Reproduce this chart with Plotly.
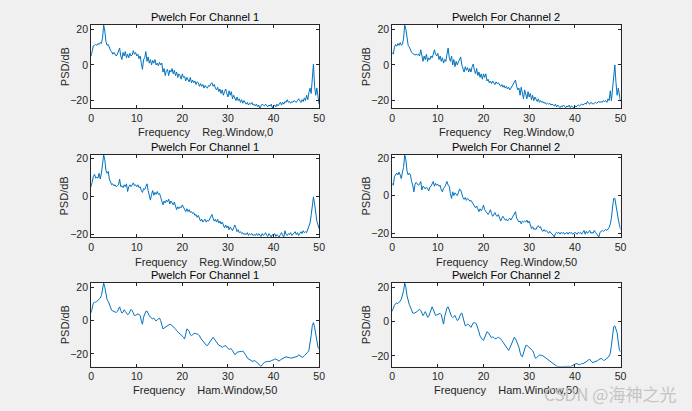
import numpy as np
import plotly.graph_objects as go

# frequency bins (Hz)
freq = np.arange(0, 201) * 0.25

# Channel 1, rectangular window, no overlap
psd_ch1_reg0 = [
    5, 8, 10.8, 11, 11.5, 11, 12, 11.5, 12.5, 12, 15, 22.3,
    19, 13, 11, 11.5, 9, 8, 7.5, 6, 7, 5.5, 5, 6,
    8, 9.5, 5, 3, 7, 5, 7.5, 4, 6, 4, 6.5, 5,
    5.5, 8, 6, 7, 5, 6, 3.5, 5, 1, -2.5, 3, 4,
    7.5, 2, 4.5, 1, 3, 0, 2.5, 1, 3, 0, 1, -0.5,
    1.5, 0, 1, -4, -2, -6, -3, -2.5, -6, -3, -4, -2,
    -5, -3, -6, -4, -7, -5, -6, -8, -5, -7, -6.5, -9,
    -7, -8, -9.5, -7, -10, -8.5, -10, -9, -11, -9.5, -10, -12,
    -10.5, -12, -11, -13, -11.5, -12.5, -13, -11.5, -12, -10.5, -10, -12,
    -11, -13, -14, -12.5, -15, -13.5, -16, -14, -17, -15, -13.5, -16,
    -18, -14.5, -17, -15, -19, -17, -18.5, -20, -18, -20, -19, -21,
    -19.5, -21.5, -20, -21, -22, -21, -22.5, -21.5, -22, -21, -22.5, -22,
    -23, -22, -23.5, -22.5, -24.3, -23, -22, -22.5, -23, -22, -22.5, -23.5,
    -22.5, -23, -22, -24.2, -23, -22.5, -23.5, -22, -23, -22, -21, -22.5,
    -21, -22, -20.5, -21, -19.5, -21, -20.5, -21.5, -20.5, -21, -20, -20.5,
    -21, -20, -19, -20, -21, -19.5, -20.5, -18.5, -20, -17, -19.5, -15.5,
    -13, -16, -8, 0.5, -12, -17, -13, -19, -22,
]

# Channel 2, rectangular window, no overlap
psd_ch2_reg0 = [
    7, 6, 10, 11.5, 10.5, 12, 11, 12.5, 11, 11.5, 15, 22.3,
    20, 14, 11, 10, 8, 7, 6.5, 6, 5.5, 6, 5.5, 6,
    5, 8.5, 4, 2, 5, 3, 6, 2, 4, 3, 5, 4,
    6, 8.5, 6, 5, 6.5, 3, 5, 2, 4, 1, 3, 2,
    6, 9.5, 4, 2, 5, 0, 3, -1, 2, 0, 1.5, 3,
    4.5, 0, -2, -4, -1, -3, -1.5, -4, -2, -4, -1, 0.5,
    -3, -5, -2, -6, -4, -7, -5, -8, -5, -7, -5, -9,
    -8, -10, -9, -10.5, -9, -10, -11, -9.5, -10.5, -10, -11, -12,
    -11, -12.5, -11.5, -13, -12, -13.5, -12.5, -14, -13, -12, -11, -10,
    -8.5, -12, -14, -13, -17, -12.5, -15, -19, -14, -16, -19, -15,
    -18, -16, -19.5, -17, -20, -18, -19.5, -20.5, -19, -21, -20, -21,
    -20.5, -21.5, -21, -22, -21.5, -22, -21.5, -22.5, -22, -22.5, -23, -22,
    -23.5, -22.5, -23, -24, -23, -23.5, -22.5, -23, -24, -23, -23.5, -22.5,
    -24, -23, -23.5, -24.2, -23, -23.5, -23, -22.5, -23, -22.5, -22, -22.5,
    -22, -21.5, -22, -20.5, -21.5, -22, -21, -21.5, -22, -21.5, -21, -21.5,
    -21, -20.5, -21, -20.5, -21, -20, -20.5, -20, -21, -19, -20, -14.5,
    -20, -14, -5, 0, -10, -17, -13, -18, -20.5,
]

# Channel 1, rectangular window, 50 overlap
psd_ch1_reg50 = [
    5, 8, 10.5, 11.5, 9.5, 10, 9.5, 12, 9, 12, 17, 21.6,
    19, 13.5, 12, 13, 9, 7, 6, 6.5, 5.5, 6, 5, 5.5,
    6, 9, 5, 5.5, 4.5, 6, 5, 6.5, 2.5, 5, 6, 5,
    6.5, 7, 5.5, 6, 5, 6, 4.5, 5, 3, 2, 4, 3.5,
    5, 6.5, 3, 1, -2, 1, 3, 0.5, 2, 1, 2.5, 1,
    1.5, -0.5, -3, -4.5, -2.5, -3.5, -2, -3, -1.5, -4, -2.5, -3.5,
    -4.5, -3, -5, -7, -5.5, -6.5, -5.5, -6, -4.5, -5.5, -7, -8,
    -6.5, -8, -7, -8.5, -8, -9, -8.5, -10, -9.5, -11, -10, -11.5,
    -13, -12, -13.5, -12.5, -12, -13.5, -12.5, -13, -12, -11, -9.5, -11.5,
    -13, -12, -13.5, -12, -14, -13, -14.5, -13.5, -15, -16.5, -15, -16.5,
    -15.5, -17.5, -16, -17, -18, -16.5, -15, -16.5, -18.5, -17.5, -19, -18.5,
    -19.5, -19, -20, -19.5, -20, -19, -20.5, -19.5, -20, -19.5, -20.5, -20,
    -20.5, -19.5, -20.5, -19.5, -20, -21, -19.5, -20.5, -20, -19, -20.5, -21,
    -19.5, -20.5, -21.3, -20, -20.5, -19.5, -21, -20, -20.5, -21.3, -20, -19,
    -20.5, -21.3, -18, -20, -20.5, -19.5, -20, -19, -20.5, -20, -19.5, -18.5,
    -20, -19, -20.5, -19.5, -18.5, -19.5, -18, -19, -18.5, -19, -17.5, -16,
    -14, -10, -4, -0.3, -4, -9, -13, -15, -17,
]

# Channel 2, rectangular window, 50 overlap
psd_ch2_reg50 = [
    6.5, 5.5, 10, 11.5, 12, 11, 12.5, 11, 9, 12.5, 15, 21.6,
    19, 13, 11, 12, 11, 7.5, 5.5, 2, 6, 7, 6.5, 5.5,
    6, 7.5, 3, 5, 4.5, 3.5, 4.5, 4, 2.5, 4.5, 5, 6,
    7.5, 5, 6.5, 5.5, 6, 5, 5.5, 3, 2, 4, 4.5, 6,
    7.5, 5.5, 5, 1, -1.5, 2, 0, 1.5, 1, 0, 1.5, 3.5,
    3, 0, -1, -2, -1, -2.5, -1.5, -2, -3, -2.5, -3.5, -4,
    -5, -6.5, -5.5, -7.5, -8.5, -7, -8, -7, -5, -7.5, -8.5, -9.5,
    -10, -9, -7.5, -9.5, -11, -10, -9, -10.5, -11, -10, -11.5, -13.5,
    -12, -11, -12, -13, -12.5, -13.5, -12.5, -12, -13, -12, -11, -9.5,
    -8.5, -12, -13, -14, -13.5, -15, -13.5, -14, -13.5, -14, -13, -14.5,
    -13.5, -16, -17.5, -16.5, -18, -17.5, -18, -16.5, -16, -17, -16.5, -18.5,
    -19, -18, -19, -18.5, -19.5, -20, -19, -20, -20.5, -21, -22, -20,
    -19.5, -20, -19.5, -20.5, -19.5, -20, -19.5, -20.5, -20, -19.5, -20.5, -19.5,
    -20, -19.5, -20.5, -20, -19.5, -20, -20.5, -19.5, -20, -19.5, -20.5, -19.5,
    -18.5, -20.5, -19, -20, -19, -18.5, -20, -19.5, -20, -18.5, -19.5, -20.5,
    -21, -22, -19.5, -19, -18.5, -19, -18.5, -18, -18.5, -18, -17, -15,
    -12, -6, -1.5, -1.5, -6, -9, -12.5, -15.5, -18,
]

# Channel 1, Hamming window, 50 overlap
psd_ch1_ham50 = [
    4.7, 8.5, 10.6, 11, 11, 11.5, 12.2, 12.8, 13.5, 15, 18, 22.4,
    20, 15, 12.5, 11.5, 9.5, 7, 6.2, 5.8, 5.5, 5, 4.8, 5.5,
    7.5, 8.2, 6, 4.5, 5, 6.5, 5.5, 4, 3.5, 4, 6, 6.7,
    6, 4, 3, 3.2, 3.5, 4, 3.5, 3, 0, -2.2, 2, 4,
    5.5, 5.7, 4, 3, 2, 1.2, 1, 1.5, 0.5, -0.3, 0.5, 1.2,
    1.5, 0, -3, -5, -4.5, -4, -3.5, -3, -2.5, -2.2, -2.5, -3,
    -3.5, -4.5, -5, -6, -7, -7.5, -8, -8.5, -9, -10, -11, -7,
    -5, -5.5, -6.5, -8.5, -9, -8.5, -7.8, -7.5, -8, -8, -8.5, -9,
    -10.5, -11.5, -12.5, -13.5, -14, -14.8, -15, -14, -12.5, -11.5, -10.3, -10,
    -11, -12, -13, -14, -14.8, -15, -15.5, -16, -15.5, -15, -15, -16,
    -17, -17.2, -17, -17, -18, -19.5, -20.4, -20, -19, -18.8, -18.8, -18.8,
    -18.5, -18.2, -19, -20, -21, -22.5, -23, -23.5, -24.2, -24.3, -24.4, -24,
    -24.3, -24.8, -25, -26, -27, -27.6, -26.5, -25.5, -25, -24.8, -24.5, -24.5,
    -24.4, -24.5, -24, -23.5, -23.5, -23.2, -23, -23.5, -24, -24.3, -23.5, -23,
    -22.6, -22.5, -22, -21.8, -21.8, -22, -22.2, -22.5, -22.5, -22.3, -22, -21.8,
    -21.8, -21.5, -20.5, -20.8, -21.5, -22, -21.8, -21, -20.5, -20, -19, -18,
    -14, -9, -3, -1.2, -4, -9, -14, -16, -17,
]

# Channel 2, Hamming window, 50 overlap
psd_ch2_ham50 = [
    6, 8, 9.5, 10.5, 10.8, 10.5, 11, 12, 13, 15, 18, 22.5,
    20, 15, 11.5, 9.9, 8.5, 6.5, 5, 4.8, 5, 5.5, 6, 6.5,
    7.2, 6.5, 5, 3.5, 4.5, 5.8, 4.5, 2.5, 3, 5.2, 7.5, 8.6,
    7, 4.5, 3.6, 3.8, 4, 4.2, 4.8, 4, 0, -1.5, 3, 6,
    8, 8.6, 6.5, 5, 3, 2.3, 3, 3.6, 2, 0.6, 1, 3,
    4.5, 5, 2, -1, -2.5, -2.2, -1.5, -1.8, -3, -3.4, -2, -0.8,
    -0.6, -0.8, -2, -3.5, -6, -8.5, -10, -10.5, -11, -9.5, -7, -6,
    -6.3, -7.5, -9, -9.5, -9, -9.2, -10, -10, -9.5, -9.2, -9.5, -10,
    -11, -12, -13, -14, -14.9, -16, -16.8, -15.5, -14, -12, -10, -9.1,
    -10, -11.5, -13.5, -15, -18, -20, -20.6, -18, -15, -14, -13.9, -14.5,
    -15, -15.5, -16.5, -17, -18.5, -21, -21.5, -20.5, -20, -19.5, -19.5, -19.8,
    -20, -20.5, -21, -21.5, -22, -22.5, -23, -23.5, -24, -24.8, -25.3, -25.7,
    -26, -26.2, -26.3, -26.3, -26.3, -26.3, -26.2, -26.3, -26.3, -26.2, -26, -26.2,
    -26.3, -26, -25.5, -25, -24.8, -24.5, -24.6, -25, -25.2, -25, -24.5, -24.6,
    -24.2, -24, -23.5, -23, -22.2, -22, -23, -23.8, -23.8, -23.6, -23.5, -23.2,
    -22.8, -22.2, -21.8, -21.5, -22, -22.6, -22.5, -22, -21.8, -21, -20, -18.5,
    -14, -8, -3, -2.5, -4, -6.5, -12, -16.5, -17.7,
]

titles = ["Pwelch For Channel 1", "Pwelch For Channel 2"] * 3
nb = "\u00a0" * 4
xlabels = ["Frequency" + nb + "Reg.Window,0"] * 2 + \
          ["Frequency" + nb + "Reg.Window,50"] * 2 + \
          ["Frequency" + nb + "Ham.Window,50"] * 2
ylabel = "PSD/dB"
x_ticks = [0, 10, 20, 30, 40, 50]
y_ticks = [-20, 0, 20]
series = [psd_ch1_reg0, psd_ch2_reg0, psd_ch1_reg50, psd_ch2_reg50, psd_ch1_ham50, psd_ch2_ham50]
y_ranges = [[-24.4, 22.4], [-24.4, 22.4], [-21.4, 21.7], [-22.1, 21.7], [-27.6, 22.6], [-26.3, 22.6]]

W, H = 692, 411
cols = [(89.3, 320.3), (394.3, 625.7)]
rows = [(22.3, 107.0), (154.0, 237.7), (284.0, 369.0)]
title_y = [14.0, 146.5, 276.0]
xlabel_y = [131.0, 262.5, 393.0]

FONT = "Liberation Sans, Arial, Helvetica, sans-serif"
TXT = "#262626"
LBL = 11
TCK = 10.5
fig = go.Figure()
annotations = []
for i in range(6):
    r, c = divmod(i, 2)
    x0, x1 = cols[c]
    yt, yb = rows[r]
    n = "" if i == 0 else str(i + 1)
    fig.add_trace(go.Scatter(x=freq, y=series[i], mode="lines",
                             line=dict(color="#0072BD", width=1),
                             xaxis="x" + n, yaxis="y" + n, showlegend=False,
                             hoverinfo="skip"))
    common = dict(showline=True, mirror="ticks", linecolor=TXT, linewidth=1,
                  ticks="inside", ticklen=3, tickcolor=TXT, tickwidth=1,
                  showgrid=False, zeroline=False,
                  tickfont=dict(family=FONT, size=TCK, color=TXT))
    fig.update_layout(**{
        "xaxis" + n: dict(domain=[x0 / W, x1 / W], anchor="y" + n, range=[0, 50],
                          tickvals=x_ticks, **common),
        "yaxis" + n: dict(domain=[1 - yb / H, 1 - yt / H], anchor="x" + n,
                          range=y_ranges[i], tickvals=y_ticks, **common),
    })
    xc = (x0 + x1) / 2 / W
    annotations.append(dict(text=titles[i], x=xc, y=1 - title_y[r] / H, xref="paper", yref="paper",
                            showarrow=False, xanchor="center", yanchor="middle",
                            font=dict(family=FONT, size=LBL, color="#000000")))
    annotations.append(dict(text=xlabels[i], x=xc, y=1 - xlabel_y[r] / H, xref="paper", yref="paper",
                            showarrow=False, xanchor="center", yanchor="middle",
                            font=dict(family=FONT, size=LBL, color=TXT)))
    annotations.append(dict(text=ylabel, x=(x0 - 27) / W, y=1 - (yt + yb) / 2 / H,
                            xref="paper", yref="paper", textangle=-90,
                            showarrow=False, xanchor="center", yanchor="middle",
                            font=dict(family=FONT, size=LBL, color=TXT)))

annotations.append(dict(text="CSDN @海神之光", x=615 / W, y=1 - 396 / H, xref="paper", yref="paper",
                        showarrow=False, xanchor="center", yanchor="middle",
                        font=dict(family="Noto Sans CJK SC, sans-serif", size=17, color="#c4c4c4")))

fig.update_layout(width=W, height=H, margin=dict(l=0, r=0, t=0, b=0),
                  paper_bgcolor="#f0f0f0", plot_bgcolor="#ffffff",
                  annotations=annotations, showlegend=False)

fig.write_html("out.html", config={"displayModeBar": False},
               post_script="document.body.style.margin='0';document.body.style.overflow='hidden';")
